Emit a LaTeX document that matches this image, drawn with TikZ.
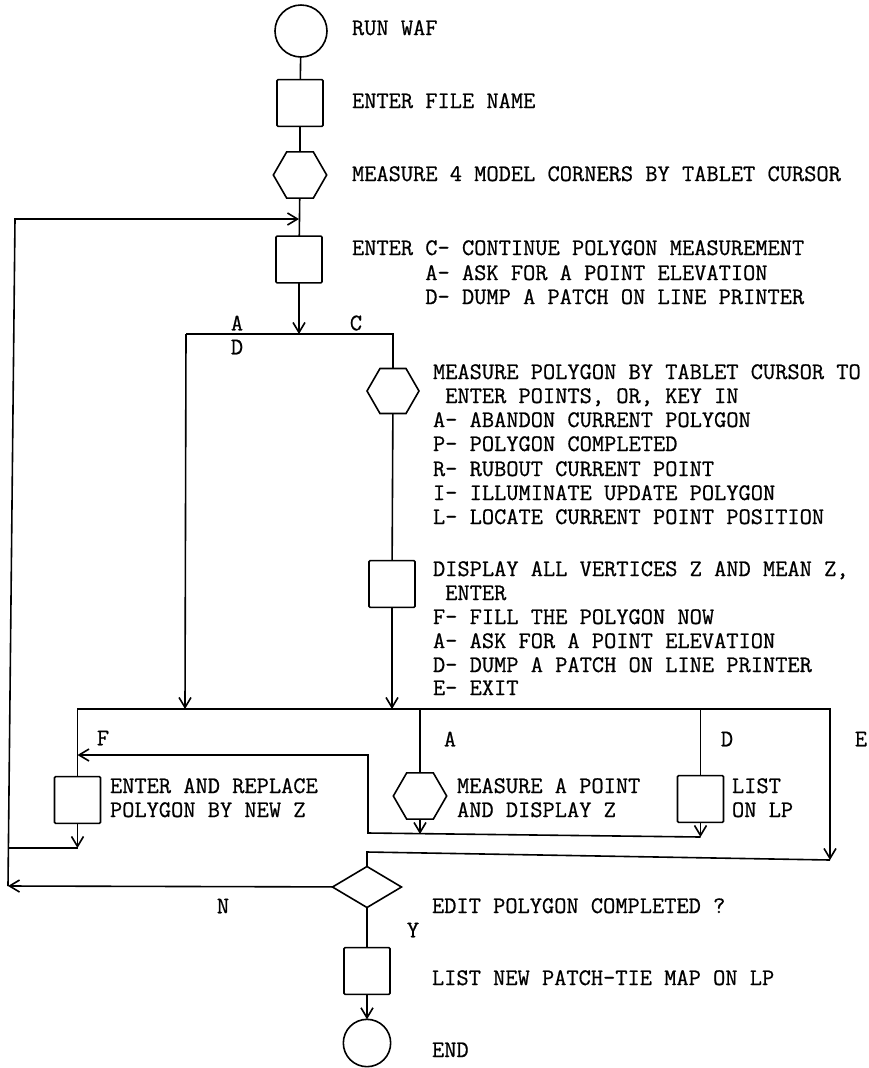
\documentclass[tikz,border=0pt]{standalone}
\usepackage{fontspec}
\newfontfamily\twfont{Latin Modern Mono}[FakeBold=0.7]
\usetikzlibrary{arrows.meta,shapes.geometric}
\begin{document}
\begin{tikzpicture}[x=0.75pt,y=-0.75pt,
  every node/.style={inner sep=0pt,outer sep=0pt},
  ln/.style={line width=1.2pt},
  arr/.style={ln,-{Straight Barb[length=7.5pt,width=9pt,line width=1.2pt]}},
  box/.style={draw,ln,minimum width=34.5pt,minimum height=35pt,rounded corners=0.8pt},
  hexa/.style={draw,ln,regular polygon,regular polygon sides=6,minimum size=40pt},
  term/.style={draw,ln,circle},
  dec/.style={draw,ln,diamond,minimum width=51.75pt,minimum height=30.75pt},
  txt/.style={anchor=base west,font=\twfont\fontsize{17.8pt}{18pt}\selectfont},
  lbl/.style={anchor=center,font=\twfont\fontsize{17.8pt}{18pt}\selectfont}]
\useasboundingbox (0,0) rectangle (868,1068);

% shapes
\node[term,minimum size=39pt] (start) at (301,31) {};
\node[box] (b1) at (300,103) {};
\node[hexa] (h1) at (300,175) {};
\node[box] (b2) at (299,259.5) {};
\node[hexa,minimum size=39pt] (h2) at (393,391) {};
\node[box] (b3) at (392,584) {};
\node[box] (bF) at (77.5,800) {};
\node[hexa] (h3) at (420,796) {};
\node[box] (bD) at (700.5,799) {};
\node[dec] (dia) at (367,887) {};
\node[box] (bE) at (367,971) {};
\node[term,minimum size=35.5pt] (endc) at (367,1043) {};

% junction points
\coordinate (fb) at (299,219);
\coordinate (lt) at (15,219);
\coordinate (lb) at (8,886);
\coordinate (sp) at (299,334);
\coordinate (spL) at (186,334);
\coordinate (spR) at (393,334);
\coordinate (aL) at (185,709);
\coordinate (aR) at (392,709);
\coordinate (busR) at (830,709);
\coordinate (busA) at (420,709);
\coordinate (busD) at (700.5,709);
\coordinate (Etip) at (830,860);
\coordinate (Fin) at (77.5,755);
\coordinate (Fc) at (368,755);
\coordinate (Fb) at (368,833);
\coordinate (hA) at (420,834);
\coordinate (hD) at (700.5,837);
\coordinate (Fout) at (77.5,848);
\coordinate (Lm) at (8.4,848);
\coordinate (Ec) at (367,852);

% connectors
\draw[ln] (start) -- (b1);
\draw[ln] (b1) -- (h1);
\draw[ln] (h1) -- (b2);
\draw[arr] (b2) -- (sp);
\draw[ln] (spL) -- (spR) -- (h2);
\draw[arr] (spL) -- (aL);
\draw[ln] (h2) -- (b3);
\draw[arr] (b3) -- (aR);
\draw[arr] (bF.north) |- (busR) -- (Etip);
\draw[ln] (busA) -- (h3);
\draw[ln] (busD) -- (bD);
\draw[arr] (hD) -- (Fb) -- (Fc) -- (Fin);
\draw[arr] (h3) -- (hA);
\draw[arr] (bD) -- (hD);
\draw[arr] (bF) -- (Fout);
\draw[ln] (Lm) -- (Fout);
\draw[ln] (Etip) -- (Ec) -- (dia);
\draw[arr] (dia) -- (lb);
\draw[arr] (lb) -- (lt) -- (fb);
\draw[ln] (dia) -- (bE);
\draw[arr] (bE) -- (endc);

% texts
\node[txt] (t1) at (352,35) {RUN WAF};
\node[txt] (t2) at (352,108) {ENTER FILE NAME};
\node[txt] (t3) at (352,181) {MEASURE 4 MODEL CORNERS BY TABLET CURSOR};
\node[txt] (t4) at (352,255) {ENTER C– CONTINUE POLYGON MEASUREMENT};
\node[txt] (t5) at (352,280) {\phantom{ENTER\ }A– ASK FOR A POINT ELEVATION};
\node[txt] (t6) at (352,304) {\phantom{ENTER\ }D– DUMP A PATCH ON LINE PRINTER};

\node[lbl] (lA1) at (237,323) {A};
\node[lbl] (lD1) at (237,347) {D};
\node[lbl] (lC1) at (356,323) {C};

\node[txt] (t7) at (433,379) {MEASURE POLYGON BY TABLET CURSOR TO};
\node[txt] (t8) at (433,403) {\phantom{X}ENTER POINTS, OR, KEY IN};
\node[txt] (t9) at (433,427) {A- ABANDON CURRENT POLYGON};
\node[txt] (t10) at (433,451) {P- POLYGON COMPLETED};
\node[txt] (t11) at (433,476) {R- RUBOUT CURRENT POINT};
\node[txt] (t12) at (433,500) {I- ILLUMINATE UPDATE POLYGON};
\node[txt] (t13) at (433,524) {L- LOCATE CURRENT POINT POSITION};

\node[txt] (t14) at (433,576) {DISPLAY ALL VERTICES Z AND MEAN Z,};
\node[txt] (t15) at (433,600) {\phantom{X}ENTER};
\node[txt] (t16) at (433,624) {F- FILL THE POLYGON NOW};
\node[txt] (t17) at (433,648) {A– ASK FOR A POINT ELEVATION};
\node[txt] (t18) at (433,672) {D– DUMP A PATCH ON LINE PRINTER};
\node[txt] (t19) at (433,695) {E– EXIT};

\node[lbl] (lF) at (103,738) {F};
\node[lbl] (lA2) at (450,739) {A};
\node[lbl] (lD2) at (727,739) {D};
\node[lbl] (lE) at (861,739) {E};

\node[txt] (t20) at (110,793) {ENTER AND REPLACE};
\node[txt] (t21) at (110,817) {POLYGON BY NEW Z};
\node[txt] (t22) at (457,793) {MEASURE A POINT};
\node[txt] (t23) at (457,817) {AND DISPLAY Z};
\node[txt] (t24) at (732,793) {LIST};
\node[txt] (t25) at (732,817) {ON LP};

\node[lbl] (lN) at (223,906) {N};
\node[lbl] (lY) at (413,930) {Y};
\node[txt] (t26) at (432,913) {EDIT POLYGON COMPLETED ?};
\node[txt] (t27) at (432,985) {LIST NEW PATCH-TIE MAP ON LP};
\node[txt] (t28) at (432,1057) {END};
\end{tikzpicture}
\end{document}
